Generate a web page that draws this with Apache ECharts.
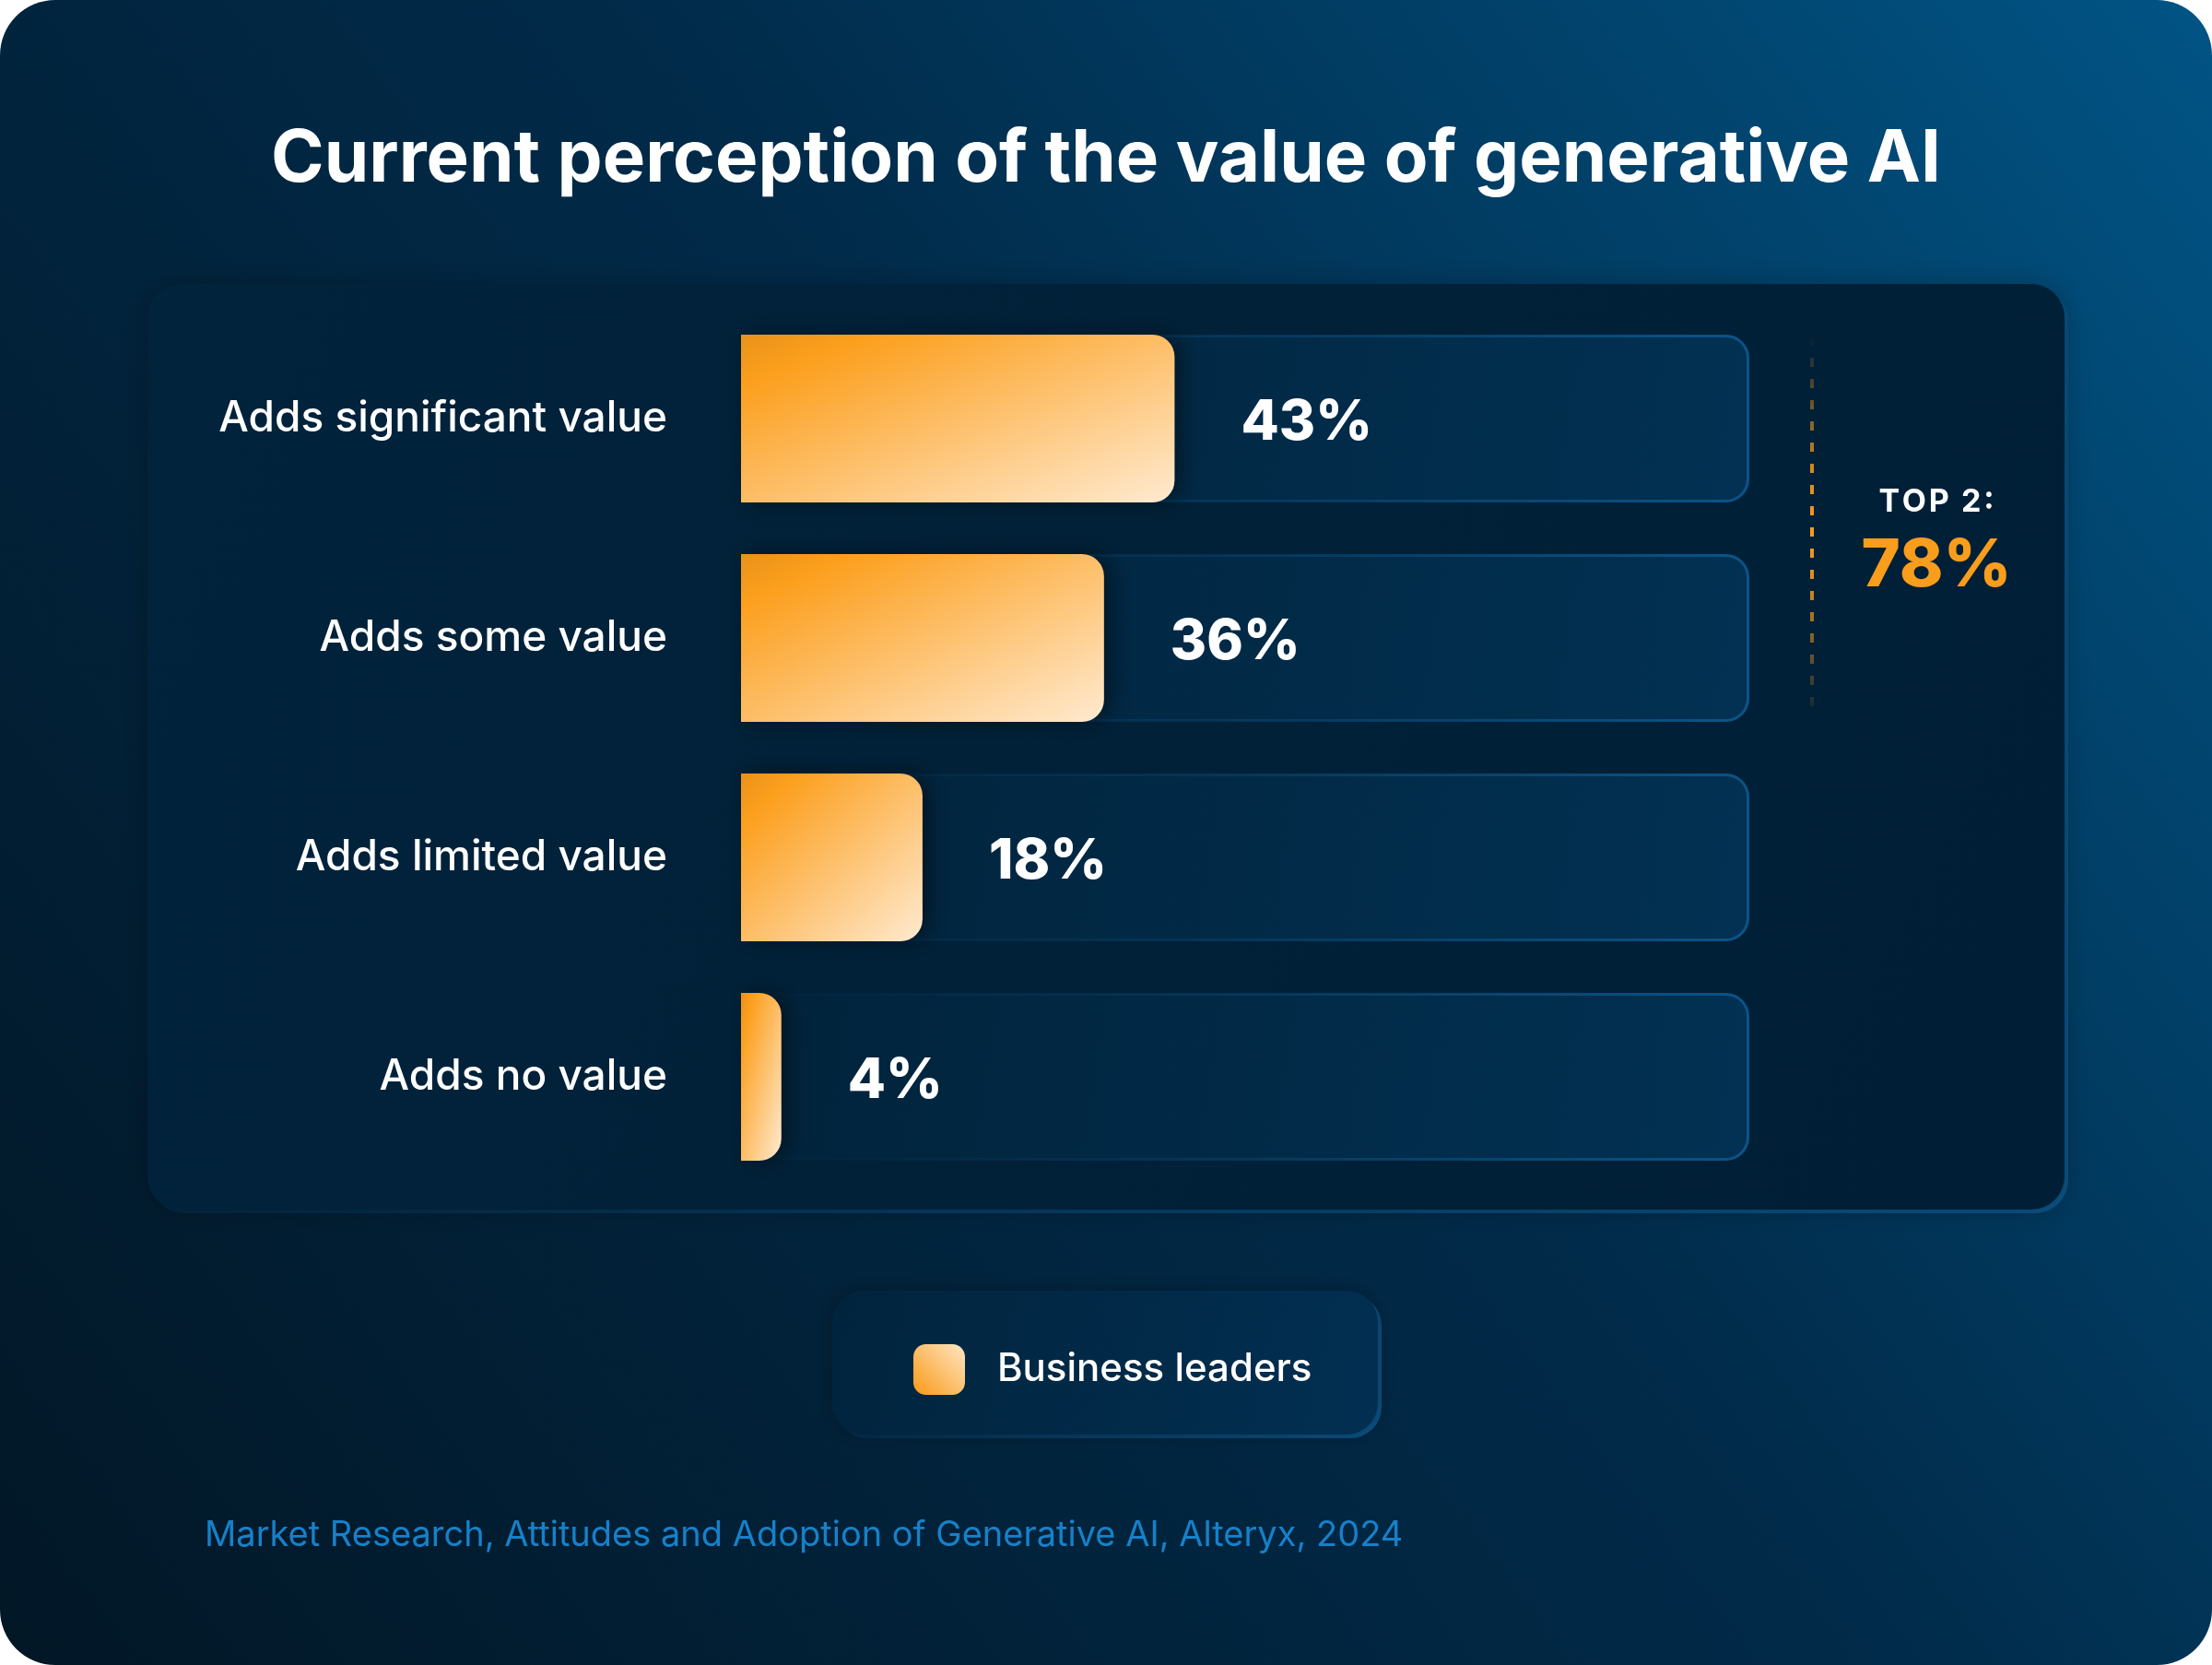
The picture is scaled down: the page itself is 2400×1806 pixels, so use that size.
<!DOCTYPE html>
<html>
<head>
<meta charset="utf-8">
<script src="https://cdn.jsdelivr.net/npm/echarts@6/dist/echarts.min.js"></script>
<style>
html,body{margin:0;padding:0;background:#ffffff;}
#chart{width:2400px;height:1806px;}
</style>
</head>
<body>
<div id="chart"></div>
<script>
// ---- data ----
const titleText = 'Current perception of the value of generative AI';
const categories = ['Adds significant value', 'Adds some value', 'Adds limited value', 'Adds no value'];
const values = [43, 36, 18, 4];
const axisMin = 0;
const axisMax = 100;
const seriesName = 'Business leaders';
const top2Label = 'TOP 2:';
const top2Value = '78%';
const sourceText = 'Market Research, Attitudes and Adoption of Generative AI, Alteryx, 2024';

const G = echarts.graphic;
const FONT = 'Inter, "Noto Sans", sans-serif';

const chart = echarts.init(document.getElementById('chart'), null, {renderer: 'canvas'});

// layout constants (style only)
const GRID_LEFT = 804, GRID_RIGHT = 502, BAR_H = 182;
const plotW = 2400 - GRID_LEFT - GRID_RIGHT;

// "to bottom right" style gradient in bar-relative coordinates
function barGradientFor(v) {
  const w = Math.max(1, (v - axisMin) / (axisMax - axisMin) * plotW);
  const h = BAR_H;
  const s = h * h + w * w;
  return new G.LinearGradient(0, 0, 2 * h * h / s, 2 * w * w / s, [
    {offset: 0, color: '#e9921a'},
    {offset: 0.15, color: '#fc9f1d'},
    {offset: 1, color: '#ffead0'}
  ]);
}

const trackGradient = new G.LinearGradient(0, 0, 1, 1, [
  {offset: 0, color: '#01233b'},
  {offset: 1, color: '#023153'}
]);
const trackBorder = new G.LinearGradient(0, 0, 1, 0, [
  {offset: 0, color: 'rgba(11,80,130,0)'},
  {offset: 0.45, color: 'rgba(11,80,130,0.35)'},
  {offset: 1, color: 'rgba(11,84,136,1)'}
]);

const option = {
  animation: false,
  title: {
    text: titleText,
    left: 'center',
    top: 130,
    textStyle: {color: '#ffffff', fontFamily: FONT, fontWeight: 700, fontSize: 78}
  },
  graphic: [
    { type: 'rect', z: -30, silent: true,
      shape: {x: 0, y: 0, width: 2400, height: 1806, r: 60},
      style: {fill: new G.LinearGradient(0, 1, 1, 0, [
        {offset: 0, color: '#021726'},
        {offset: 0.55, color: '#012b4a'},
        {offset: 1, color: '#015485'}
      ])}
    },
    { type: 'rect', z: -20, silent: true,
      shape: {x: 164, y: 312, width: 2080, height: 1004, r: 36},
      style: {fill: new G.LinearGradient(0, 0, 1, 1, [
        {offset: 0, color: 'rgba(11,80,130,0)'},
        {offset: 0.5, color: 'rgba(11,80,130,0.5)'},
        {offset: 1, color: '#0b5386'}
      ])}
    },
    { type: 'rect', z: -10, silent: true,
      shape: {x: 160, y: 308, width: 2080, height: 1004, r: 36},
      style: {fill: new G.LinearGradient(0, 0, 1, 1, [
        {offset: 0, color: '#01233b'},
        {offset: 1, color: '#001f36'}
      ]), shadowColor: 'rgba(0,0,0,0.25)', shadowBlur: 30}
    },
    { type: 'line', z: -5, silent: true,
      shape: {x1: 1966, y1: 365, x2: 1966, y2: 782},
      style: {
        stroke: new G.LinearGradient(0, 365, 0, 782, [
          {offset: 0, color: 'rgba(249,157,28,0)'},
          {offset: 0.35, color: 'rgba(249,157,28,0.85)'},
          {offset: 0.5, color: 'rgba(249,157,28,1)'},
          {offset: 0.65, color: 'rgba(249,157,28,0.85)'},
          {offset: 1, color: 'rgba(249,157,28,0)'}
        ], true),
        lineWidth: 4, lineDash: [10, 13]
      }
    },
    { type: 'text', z: 5, silent: true,
      style: {x: 2101, y: 545, text: top2Label.split('').join('\u200A'), fill: '#ffffff', font: '700 34px ' + FONT,
        textAlign: 'center', textVerticalAlign: 'middle'}
    },
    { type: 'text', z: 5, silent: true,
      style: {x: 2101, y: 614, text: top2Value, fill: '#f99d1c', font: '800 72px ' + FONT,
        textAlign: 'center', textVerticalAlign: 'middle'}
    },
    { type: 'rect', z: -6, silent: true,
      shape: {x: 907, y: 1404, width: 592, height: 156, r: 34},
      style: {fill: new G.LinearGradient(0, 0, 1, 1, [
        {offset: 0, color: 'rgba(11,80,130,0.2)'},
        {offset: 1, color: '#0b5386'}
      ])}
    },
    { type: 'rect', z: -5, silent: true,
      shape: {x: 903, y: 1400, width: 592, height: 156, r: 34},
      style: {fill: new G.LinearGradient(0, 0, 1, 1, [
        {offset: 0, color: '#01243d'},
        {offset: 1, color: '#022f52'}
      ]), shadowColor: 'rgba(0,0,0,0.3)', shadowBlur: 20}
    },
    { type: 'text', z: 5, silent: true,
      style: {x: 222, y: 1666, text: sourceText, fill: '#1681c9', font: '400 38px ' + FONT,
        textAlign: 'left', textVerticalAlign: 'middle'}
    }
  ],
  legend: {
    data: [{name: seriesName, itemStyle: {color: new G.LinearGradient(0, 1, 1, 0, [
      {offset: 0, color: '#f99a17'},
      {offset: 1, color: '#ffe6c4'}
    ]), shadowBlur: 0, borderWidth: 0}}],
    left: 986,
    top: 1453,
    itemWidth: 56,
    itemHeight: 55,
    icon: 'roundRect',
    selectedMode: false,
    textStyle: {color: '#ffffff', fontFamily: FONT, fontWeight: 500, fontSize: 42, padding: [0, 0, 0, 30]}
  },
  grid: {left: GRID_LEFT, right: GRID_RIGHT, top: 335, bottom: 519, containLabel: false},
  xAxis: {type: 'value', min: axisMin, max: axisMax, show: false},
  yAxis: {
    type: 'category', inverse: true, data: categories,
    axisLine: {show: false}, axisTick: {show: false}, splitLine: {show: false},
    axisLabel: {color: '#ffffff', fontFamily: FONT, fontWeight: 500, fontSize: 46, margin: 80,
      padding: [6, 0, 0, 0]}
  },
  series: [
    {
      name: 'track', type: 'bar', silent: true, barWidth: BAR_H, barGap: '-100%',
      data: categories.map(() => axisMax), z: 1,
      itemStyle: {color: trackGradient, borderColor: trackBorder, borderWidth: 3, borderRadius: 24}
    },
    {
      name: seriesName, type: 'bar', barWidth: BAR_H, barGap: '-100%', z: 3,
      data: values.map(v => ({value: v, itemStyle: {color: barGradientFor(v)}})),
      itemStyle: {color: '#fca11f', borderRadius: [0, 24, 24, 0],
        shadowColor: 'rgba(0,0,0,0.45)', shadowBlur: 24, shadowOffsetX: 8},
      label: {show: true, position: 'right', distance: 72, formatter: '{c}%', offset: [0, 5],
        color: '#ffffff', fontFamily: FONT, fontWeight: 800, fontSize: 60}
    }
  ]
};
chart.setOption(option);
</script>
</body>
</html>
